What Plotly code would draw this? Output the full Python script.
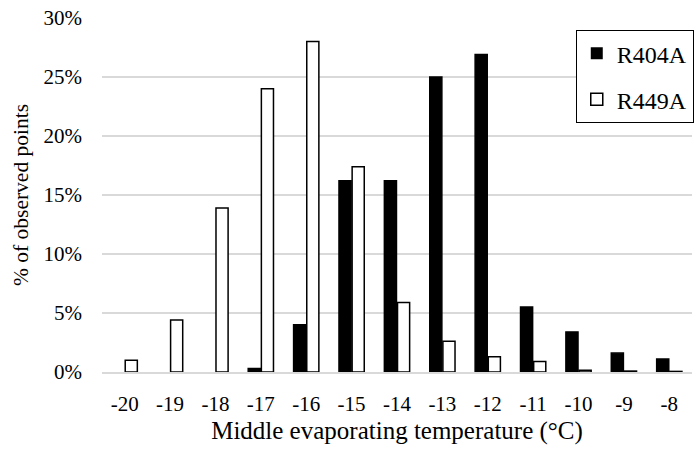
import plotly.graph_objects as go

temps = ["-20", "-19", "-18", "-17", "-16", "-15", "-14", "-13", "-12", "-11", "-10", "-9", "-8"]
r404a = [0, 0, 0, 0.3, 4.0, 16.2, 16.2, 25.0, 26.9, 5.5, 3.4, 1.6, 1.1]
r449a = [1.0, 4.4, 13.9, 24.0, 28.0, 17.4, 5.9, 2.6, 1.3, 0.9, 0.15, 0.08, 0.05]

font_family = "Liberation Serif"

def outline(vals):
    return [1.5 if v > 0 else 0 for v in vals]

fig = go.Figure()
fig.add_trace(go.Bar(x=temps, y=r404a, name="R404A", legendgroup="a",
                     marker=dict(color="black", line=dict(color="black", width=outline(r404a)))))
fig.add_trace(go.Bar(x=temps, y=r449a, name="R449A", legendgroup="b",
                     marker=dict(color="white", line=dict(color="black", width=outline(r449a)))))

fig.update_layout(
    width=699, height=450,
    margin=dict(l=102, r=7, t=18, b=78, autoexpand=False),
    paper_bgcolor="white", plot_bgcolor="white",
    font=dict(family=font_family, size=21, color="black"),
    barmode="group", bargap=0.42, bargroupgap=0.08,
    showlegend=True,
    legend=dict(x=0.803, y=0.966, xanchor="left", yanchor="top",
                bordercolor="black", borderwidth=1, bgcolor="white",
                font=dict(size=24, family=font_family, color="black"), tracegroupgap=12,
                traceorder="grouped", itemwidth=30),
    xaxis=dict(title=dict(text="Middle evaporating temperature (°C)", standoff=7,
                          font=dict(size=25, family=font_family, color="black")),
               automargin=False,
               showgrid=False, showline=True, linecolor="#d9d9d9", linewidth=1.5,
               ticks="", ticklabelstandoff=12,
               tickfont=dict(size=21, family=font_family, color="black")),
    yaxis=dict(title=dict(text="% of observed points", standoff=8,
                          font=dict(size=21.5, family=font_family, color="black")),
               automargin=False,
               range=[0, 30], dtick=5, ticksuffix="%",
               showgrid=True, gridcolor="#d9d9d9", gridwidth=1.5,
               zeroline=False, showline=False, ticks="", ticklabelstandoff=19,
               tickfont=dict(size=21, family=font_family, color="black")),
)

fig.write_html("out.html")
